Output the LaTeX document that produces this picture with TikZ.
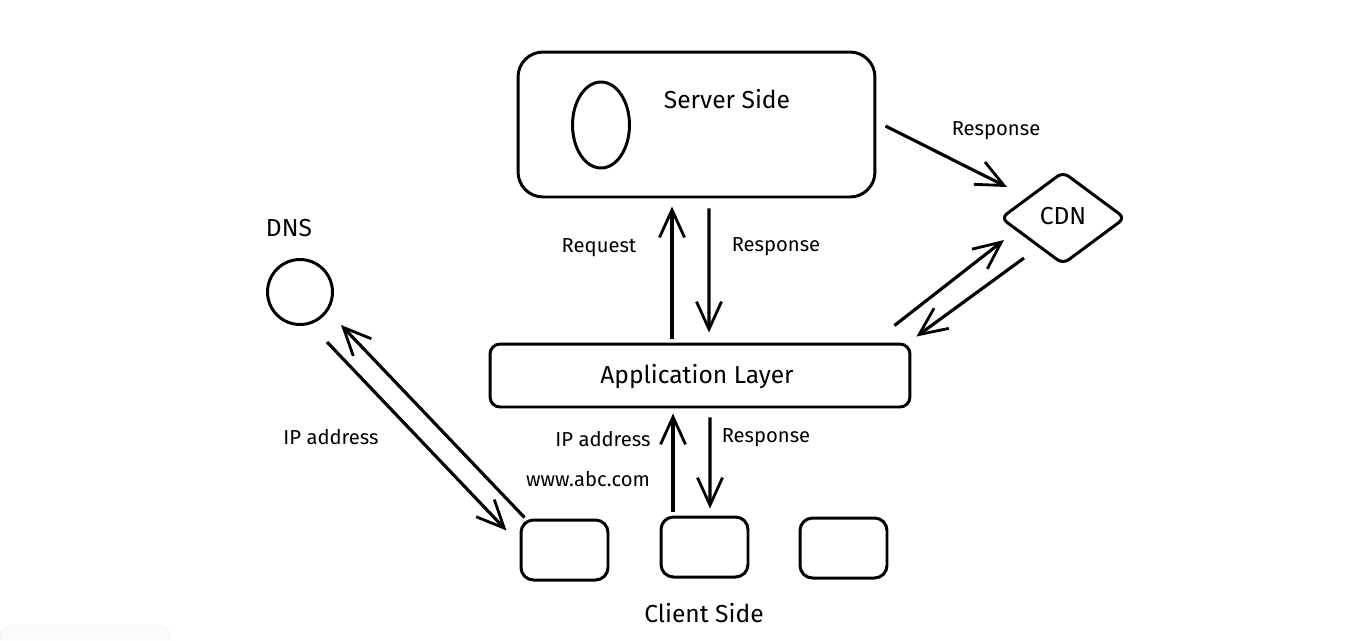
\documentclass[tikz,border=0pt]{standalone}
\usepackage{fontspec}
\setmainfont{Fira Sans}
\usetikzlibrary{shapes,arrows.meta}

\begin{document}
\begin{tikzpicture}[x=0.02cm,y=-0.02cm]
\tikzstyle{every node}=[font=\fontsize{11.5}{13}\selectfont]
\tikzstyle{rbox}=[draw,line width=1.7pt,rounded corners=0.25cm,inner sep=0pt]
\tikzstyle{arr}=[line width=1.8pt,-{Straight Barb[length=5.5mm,width=5mm,line width=1.6pt]}]
\tikzstyle{big}=[font=\fontsize{14}{16}\selectfont]
\useasboundingbox (0,0) rectangle (1372,640);

\draw[gray!12,fill=gray!3] (0,640) -- (0,637) arc (180:270:12) -- (158,625) arc (270:360:12) -- (170,640);

\node[rbox,rounded corners=0.5cm,minimum width=7.14cm,minimum height=2.9cm] (server) at (696.5,124.5) {};
\node[draw,ellipse,line width=1.7pt,minimum width=1.14cm,minimum height=1.72cm] (db) at (601,125) {};
\node[big] (servertxt) at (727,99) {Server Side};

\node[draw,diamond,line width=1.7pt,rounded corners=4pt,inner sep=0pt,minimum width=2.5cm,minimum height=1.86cm] (cdn) at (1063,218) {};
\node[big] (cdntxt) at (1063,216) {CDN};

\node[draw,circle,line width=1.7pt,minimum size=1.3cm,inner sep=0pt] (dns) at (300,292) {};
\node[big] (dnstxt) at (289,228) {DNS};

\node[rbox,rounded corners=0.2cm,minimum width=8.4cm,minimum height=1.26cm] (app) at (700,375.5) {};
\node[big] (apptxt) at (697,377) {Application Layer};

\node[rbox,minimum width=1.74cm,minimum height=1.2cm] (c1) at (564.5,550) {};
\node[rbox,minimum width=1.74cm,minimum height=1.2cm] (c2) at (704.5,547) {};
\node[rbox,minimum width=1.74cm,minimum height=1.2cm] (c3) at (843.5,548) {};
\node[big] (clienttxt) at (704,613) {Client Side};

\draw[arr] ([shift={(-28,-4)}]app.north) -- ([shift={(-24.5,8)}]server.south);
\draw[arr] ([shift={(12.5,10)}]server.south) -- ([shift={(9,-10)}]app.north);
\draw[arr] ([shift={(-31.5,-4)}]c2.north) -- ([shift={(-27,5)}]app.south);
\draw[arr] ([shift={(10,9)}]app.south) -- ([shift={(5.5,-7)}]c2.north);
\draw[arr] ([shift={(9,1.5)}]server.east) -- ([shift={(-56,-31)}]cdn.center);
\draw[arr] ([shift={(-17,-17)}]app.north east) -- ([shift={(-59,22)}]cdn.center);
\draw[arr] ([shift={(-39,40)}]cdn.center) -- ([shift={(5,-6)}]app.north east);
\draw[arr] ([shift={(27,50)}]dns.center) -- ([shift={(-13,12)}]c1.north west);
\draw[arr] ([shift={(5,-1)}]c1.north west) -- ([shift={(41,33)}]dns.center);

\node (resp1) at (996,131) {Response};
\node (req) at (599,248) {Request};
\node (resp2) at (776,247) {Response};
\node (ip1) at (331,437) {IP address};
\node (ip2) at (603,439) {IP address};
\node (resp3) at (766,438) {Response};
\node (url) at (588,479) {www.abc.com};
\end{tikzpicture}
\end{document}
